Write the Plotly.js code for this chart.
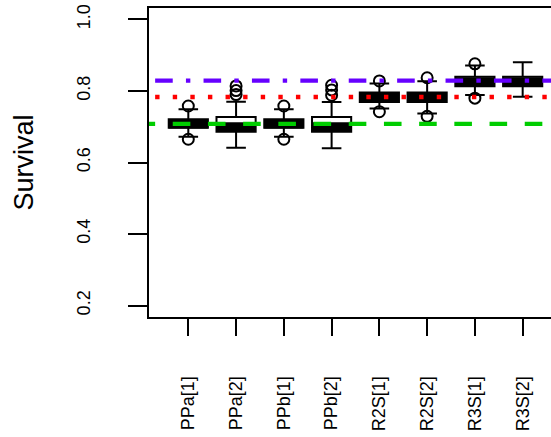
<!DOCTYPE html>
<html>
<head>
<meta charset="utf-8">
<script src="https://cdn.plot.ly/plotly-3.0.1.min.js"></script>
<style>
  html, body { margin: 0; padding: 0; background: #fff; }
  #chart { width: 551px; height: 437px; }
</style>
</head>
<body>
<div id="chart"></div>
<script>
// Posterior survival summaries per parameter
const groups = ['PPa[1]', 'PPa[2]', 'PPb[1]', 'PPb[2]', 'R2S[1]', 'R2S[2]', 'R3S[1]', 'R3S[2]'];
const lowerWhisker = [0.672, 0.641, 0.672, 0.640, 0.751, 0.737, 0.789, 0.784];
const q1 = [0.697, 0.686, 0.697, 0.686, 0.769, 0.769, 0.813, 0.813];
const median = [0.708, 0.700, 0.708, 0.700, 0.782, 0.782, 0.826, 0.826];
const q3 = [0.721, 0.727, 0.721, 0.727, 0.796, 0.796, 0.840, 0.840];
const upperWhisker = [0.749, 0.770, 0.749, 0.769, 0.821, 0.827, 0.871, 0.880];

// Points beyond the whiskers
const outlierGroup = ['PPa[1]', 'PPa[1]', 'PPa[2]', 'PPa[2]', 'PPa[2]', 'PPb[1]', 'PPb[1]',
                      'PPb[2]', 'PPb[2]', 'PPb[2]', 'R2S[1]', 'R2S[1]', 'R2S[2]', 'R2S[2]',
                      'R3S[1]', 'R3S[1]'];
const outlierValue = [0.758, 0.665, 0.790, 0.801, 0.814, 0.758, 0.665,
                      0.788, 0.803, 0.816, 0.828, 0.742, 0.837, 0.729,
                      0.876, 0.780];

// True survival levels used in the simulation
const trueLevels = [0.829, 0.783, 0.708];
const levelColors = ['rgb(102,0,255)', 'rgb(255,0,0)', 'rgb(0,205,0)'];

const yTicks = [0.2, 0.4, 0.6, 0.8, 1.0];
const yTickText = ['0.2', '0.4', '0.6', '0.8', '1.0'];

// ---- drawing ----
const FONT = 'Liberation Sans, Arial, Helvetica, sans-serif';
const pos = groups.map((g, i) => i + 1);
const posOf = g => groups.indexOf(g) + 1;
const xRange = [0.177, 8.593];
const boxWidth = 0.82;
const lwd = 4.4;  // reference line width; dash lengths scale with it
const dashes = [
  [lwd, 3 * lwd, 4 * lwd, 3 * lwd],   // dot-dash
  [lwd, 3 * lwd],                     // dotted
  [4 * lwd, 4 * lwd]                  // dashed
].map(p => p.map(v => v + 'px').join(','));

const traces = [];

traces.push({
  type: 'box',
  x: pos,
  q1: q1,
  median: median,
  q3: q3,
  lowerfence: lowerWhisker,
  upperfence: upperWhisker,
  width: boxWidth,
  whiskerwidth: 0.5,
  boxpoints: false,
  line: { color: '#000', width: 2 },
  fillcolor: '#fff',
  hoverinfo: 'skip',
  showlegend: false
});

// heavy median bars
const medX = [], medY = [];
pos.forEach((p, i) => {
  medX.push(p - boxWidth / 2, p + boxWidth / 2, null);
  medY.push(median[i], median[i], null);
});
traces.push({
  type: 'scatter', mode: 'lines',
  x: medX, y: medY,
  line: { color: '#000', width: 9 },
  hoverinfo: 'skip', showlegend: false
});

traces.push({
  type: 'scatter', mode: 'markers',
  x: outlierGroup.map(posOf),
  y: outlierValue,
  marker: { symbol: 'circle-open', size: 11, color: '#000', line: { width: 2 } },
  hoverinfo: 'skip', showlegend: false
});

// horizontal reference levels, started a little left of the frame and clipped by it
trueLevels.forEach((v, i) => {
  traces.push({
    type: 'scatter', mode: 'lines',
    x: [xRange[0] - 0.24, xRange[1] + 1],
    y: [v, v],
    line: { color: levelColors[i], width: lwd, dash: dashes[i] },
    hoverinfo: 'skip', showlegend: false
  });
});

const layout = {
  width: 551,
  height: 437,
  margin: { l: 149, r: 0, t: 8, b: 120 },
  paper_bgcolor: '#fff',
  plot_bgcolor: '#fff',
  showlegend: false,
  font: { family: FONT, color: '#000' },
  xaxis: {
    range: xRange,
    tickmode: 'array',
    tickvals: pos,
    ticktext: groups,
    tickangle: -90,
    ticks: 'outside',
    ticklen: 17,
    tickwidth: 2,
    tickcolor: '#000',
    ticklabelstandoff: 33,
    tickfont: { family: FONT, size: 18, color: '#000' },
    showline: true,
    mirror: true,
    linewidth: 2,
    linecolor: '#000',
    showgrid: false,
    zeroline: false
  },
  yaxis: {
    range: [0.168, 1.032],
    tickmode: 'array',
    tickvals: yTicks,
    ticktext: yTickText,
    tickangle: -90,
    ticks: 'outside',
    ticklen: 19,
    tickwidth: 2,
    tickcolor: '#000',
    ticklabelstandoff: 31,
    tickfont: { family: FONT, size: 18, color: '#000' },
    showline: true,
    mirror: false,
    linewidth: 2,
    linecolor: '#000',
    showgrid: false,
    zeroline: false,
    title: { text: 'Survival', font: { family: FONT, size: 27, color: '#000' }, standoff: 32 }
  }
};

Plotly.newPlot('chart', traces, layout, { staticPlot: true, displayModeBar: false });
</script>
</body>
</html>
